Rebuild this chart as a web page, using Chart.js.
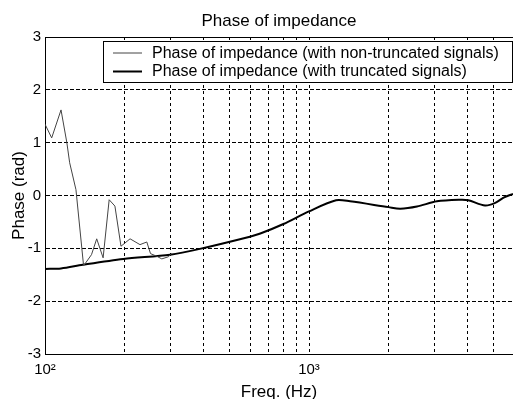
<!DOCTYPE html>
<html><head><meta charset="utf-8">
<script src="https://cdn.jsdelivr.net/npm/chart.js@4"></script>
<style>html,body{margin:0;padding:0;background:#fff;overflow:hidden}#wrap{width:513px;height:399px;position:relative;background:#fff}</style>
</head><body><div id="wrap"><canvas id="c" width="513" height="399"></canvas></div>
<script>
const titleText = 'Phase of impedance';
const xTitle = 'Freq. (Hz)';
const yTitle = 'Phase (rad)';
const seriesNames = ['Phase of impedance (with non-truncated signals)', 'Phase of impedance (with truncated signals)'];
const freqNonTrunc = [100,106,115,121,124,131,140,150,157,166,175,184,194,210,229,243,251,265,277,293,302];
const phaseNonTrunc = [1.35,1.09,1.62,1.0,0.62,0.11,-1.33,-1.12,-0.82,-1.18,-0.08,-0.2,-0.96,-0.82,-0.93,-0.88,-1.1,-1.15,-1.2,-1.16,-1.1];
const freqTrunc = [100,115,139,198,298,386,597,654,800,1000,1266,1431,2000,2216,2564,3050,3736,4011,4645,5073,5458,5925];
const phaseTrunc = [-1.39,-1.38,-1.31,-1.2,-1.12,-1.01,-0.78,-0.72,-0.54,-0.3,-0.09,-0.11,-0.22,-0.25,-0.21,-0.11,-0.08,-0.09,-0.19,-0.14,-0.04,0.03];
const xTicks = [100,200,300,400,500,600,700,800,900,1000,2000,3000,4000,5000];
const xTickLabels = {100:'10²', 1000:'10³'};
const yTicks = [-3,-2,-1,0,1,2,3];

const FONT = "'Liberation Sans', Arial, Helvetica, sans-serif";

const frame = {
  id: 'frame',
  afterDraw(chart) {
    const {ctx, chartArea: a} = chart;
    ctx.save();
    ctx.strokeStyle = '#000';
    ctx.lineWidth = 1;
    ctx.beginPath();
    ctx.moveTo(a.left, Math.round(a.top) + 0.5);
    ctx.lineTo(a.right, Math.round(a.top) + 0.5);
    ctx.stroke();
    const bx = 103.5, by = 41.5, bw = a.right - 0.5 - bx, bh = 41;
    ctx.fillStyle = '#fff';
    ctx.fillRect(bx, by, bw, bh);
    ctx.strokeStyle = '#000';
    ctx.strokeRect(bx, by, bw, bh);
    const rows = [53, 71.5];
    chart.data.datasets.forEach((ds, i) => {
      ctx.strokeStyle = ds.borderColor;
      ctx.lineWidth = ds.borderWidth;
      ctx.beginPath();
      ctx.moveTo(113, rows[i]);
      ctx.lineTo(142, rows[i]);
      ctx.stroke();
      ctx.fillStyle = '#000';
      ctx.font = '16px ' + FONT;
      ctx.textBaseline = 'middle';
      ctx.textAlign = 'left';
      ctx.fillText(ds.label, 152, rows[i] + 0.5);
    });
    ctx.restore();
  }
};

new Chart(document.getElementById('c'), {
  type: 'line',
  data: {
    datasets: [
      { label: seriesNames[0], data: freqNonTrunc.map((f, i) => ({x: f, y: phaseNonTrunc[i]})),
        borderColor: '#444', borderWidth: 1, pointRadius: 0, tension: 0 },
      { label: seriesNames[1], data: freqTrunc.map((f, i) => ({x: f, y: phaseTrunc[i]})),
        borderColor: '#000', borderWidth: 2, pointRadius: 0, tension: 0.3 }
    ]
  },
  options: {
    responsive: false, animation: false, devicePixelRatio: 1,
    layout: { padding: 0 },
    plugins: {
      legend: { display: false }, tooltip: { enabled: false },
      title: { display: true, text: titleText, fullSize: false, color: '#000',
        font: { family: FONT, size: 17, weight: 'normal', lineHeight: 1.2 },
        padding: { top: 11, bottom: 5.6 } }
    },
    scales: {
      x: {
        type: 'logarithmic', min: 100, max: 5925,
        afterBuildTicks: s => { s.ticks = xTicks.map(v => ({value: v})); },
        afterFit: s => { s.height = 45; },
        ticks: { autoSkip: false, maxRotation: 0, color: '#000', padding: 7,
          font: { family: FONT, size: 15 },
          callback: v => xTickLabels[v] || '' },
        grid: { color: '#000', drawTicks: false, lineWidth: 1 },
        border: { color: '#000', width: 1, dash: [3, 3] },
        title: { display: true, text: xTitle, color: '#000',
          font: { family: FONT, size: 17, lineHeight: 1 }, padding: { top: 0, bottom: -2 } }
      },
      y: {
        min: -3, max: 3,
        afterBuildTicks: s => { s.ticks = yTicks.map(v => ({value: v})); },
        afterFit: s => { s.width = 45; },
        ticks: { color: '#000', padding: 4, font: { family: FONT, size: 15 },
          callback: v => String(v) },
        grid: { color: '#000', drawTicks: false, lineWidth: 1 },
        border: { color: '#000', width: 1, dash: [4, 2] },
        title: { display: true, text: yTitle, color: '#000',
          font: { family: FONT, size: 17, lineHeight: 1.2 }, padding: { top: 9, bottom: 0 } }
      }
    }
  },
  plugins: [frame]
});
</script></body></html>
